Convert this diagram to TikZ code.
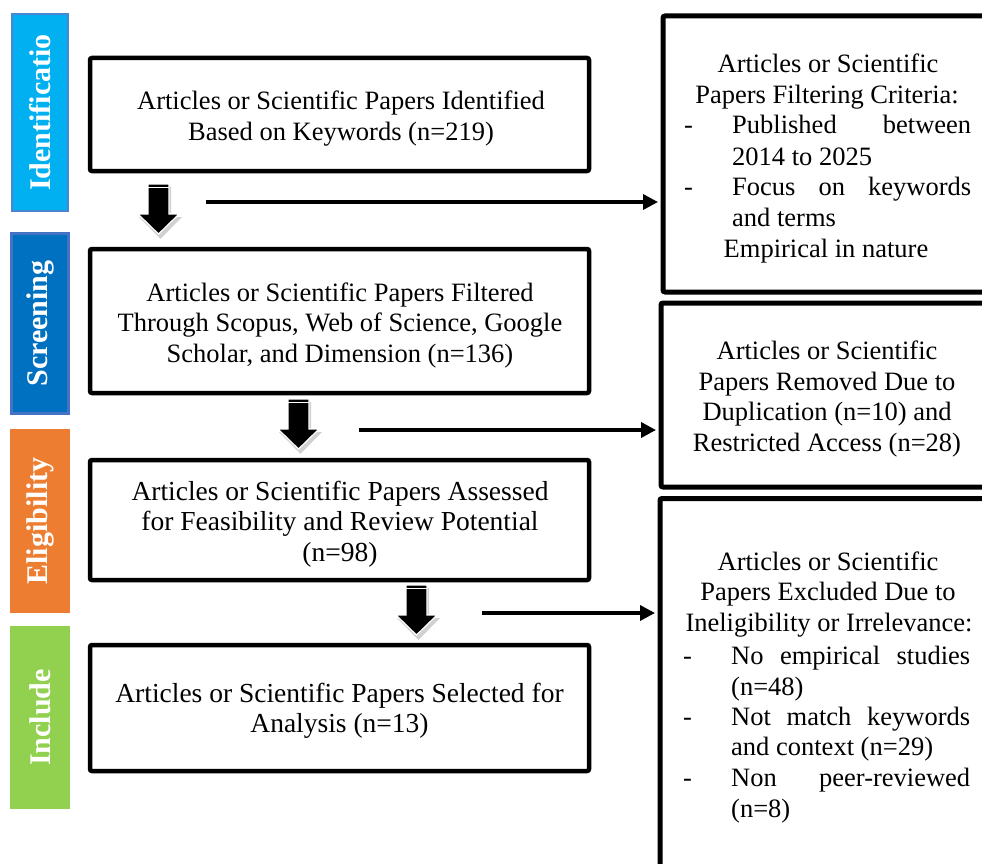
\documentclass[tikz,border=0pt]{standalone}
\usepackage{fontspec}
\setmainfont{Liberation Serif}
\usetikzlibrary{arrows.meta}
\definecolor{idfill}{HTML}{00B0F0}
\definecolor{idline}{HTML}{4A86D0}
\definecolor{scfill}{HTML}{0070C0}
\definecolor{scline}{HTML}{4472C4}
\definecolor{elfill}{HTML}{ED7D31}
\definecolor{infill}{HTML}{92D050}
\tikzset{
  mainbox/.style={draw=black, line width=4.5pt, rounded corners=2pt, fill=white, inner sep=0pt},
  rightbox/.style={draw=black, line width=5pt, rounded corners=2pt, fill=white, inner sep=0pt},
  sidebox/.style={rotate=90, inner sep=0pt, text=white, font=\fontsize{30}{30}\selectfont\bfseries},
  txt/.style={anchor=base, inner sep=0pt, font=\fontsize{26.5}{30}\selectfont},
  txtw/.style={anchor=base west, inner sep=0pt, font=\fontsize{26.5}{30}\selectfont},
  txtb/.style={anchor=base, inner sep=0pt, font=\fontsize{27.5}{30}\selectfont},
  conn/.style={line width=3.5pt, -{Triangle[length=15pt,width=15pt]}},
  blockarrow/.pic={
    \fill[black, opacity=0.18] (-8.5,3) -- (12.5,3) -- (12.5,33) -- (23.5,33) -- (2,55) -- (-19.5,33) -- (-8.5,33) -- cycle;
    \filldraw[fill=black, draw=white, line width=1.2pt] (-10.5,0) -- (10.5,0) -- (10.5,30) -- (20.5,30) -- (0,50) -- (-20.5,30) -- (-10.5,30) -- cycle;
    \draw[white, line width=1.6pt] (-10.5,3.5) -- (10.5,3.5);
  }
}
\newcommand{\jline}[1]{\makebox[239pt][s]{#1}}
\begin{document}
\begin{tikzpicture}[x=1pt,y=-1pt]
\useasboundingbox (0,0) rectangle (982,864);
\clip (0,0) rectangle (982,864);

% side labels
\node[sidebox, fill=idfill, draw=idline, line width=1.5pt, minimum width=197pt, minimum height=56pt] (sid) at (40,112.5) {Identificatio};
\node[sidebox, fill=scfill, draw=scline, line width=3pt, minimum width=180pt, minimum height=57pt] (ssc) at (40,323.5) {Screening};
\node[sidebox, fill=elfill, minimum width=184pt, minimum height=60pt] (sel) at (40,521) {Eligibility};
\node[sidebox, fill=infill, minimum width=183pt, minimum height=60pt] (sin) at (40,717.5) {Include};

% main boxes
\node[mainbox, minimum width=499pt, minimum height=113pt] (b1) at (339.5,114.5) {};
\node[mainbox, minimum width=499pt, minimum height=144pt] (b2) at (339.5,321) {};
\node[mainbox, minimum width=499pt, minimum height=120pt] (b3) at (339.5,520) {};
\node[mainbox, minimum width=499pt, minimum height=126pt] (b4) at (339.5,708) {};

\node[txt] (b1t1) at (341,110) {Articles or Scientific Papers Identified};
\node[txt] (b1t2) at (341,140) {Based on Keywords (n=219)};

\node[txt] (b2t1) at (340,301) {Articles or Scientific Papers Filtered};
\node[txt] (b2t2) at (340,331) {Through Scopus, Web of Science, Google};
\node[txt] (b2t3) at (340,362) {Scholar, and Dimension (n=136)};

\node[txtb] (b3t1) at (340,500) {Articles or Scientific Papers Assessed};
\node[txtb] (b3t2) at (340,530) {for Feasibility and Review Potential};
\node[txtb] (b3t3) at (340,561) {(n=98)};

\node[txtb] (b4t1) at (339.5,702) {Articles or Scientific Papers Selected for};
\node[txtb] (b4t2) at (339.5,732) {Analysis (n=13)};

% right boxes
\node[rightbox, minimum width=337pt, minimum height=276pt] (r1) at (831.5,154) {};
\node[rightbox, minimum width=339pt, minimum height=184pt] (r2) at (830.5,395) {};
\node[rightbox, minimum width=340pt, minimum height=402pt] (r3) at (830,699.5) {};

\node[txt] (r1t1) at (828,73) {Articles or Scientific};
\node[txt] (r1t2) at (827,104) {Papers Filtering Criteria:};
\node[txtw] (r1d1) at (684,134) {-};
\node[txtw] (r1t3) at (732,134) {\jline{Published between}};
\node[txtw] (r1t4) at (732,165) {2014 to 2025};
\node[txtw] (r1d2) at (684,195) {-};
\node[txtw] (r1t5) at (732,195) {\jline{Focus on keywords}};
\node[txtw] (r1t6) at (732,226) {and terms};
\node[txt] (r1t7) at (826,257) {Empirical in nature};

\node[txt] (r2t1) at (827,359) {Articles or Scientific};
\node[txt] (r2t2) at (827,390) {Papers Removed Due to};
\node[txt] (r2t3) at (827,420) {Duplication (n=10) and};
\node[txt] (r2t4) at (827,451) {Restricted Access (n=28)};

\node[txt] (r3t1) at (828,570) {Articles or Scientific};
\node[txt] (r3t2) at (828,600) {Papers Excluded Due to};
\node[txt] (r3t3) at (829,631) {Ineligibility or Irrelevance:};
\node[txtw] (r3d1) at (683,664) {-};
\node[txtw] (r3t4) at (731,664) {\jline{No empirical studies}};
\node[txtw] (r3t5) at (731,695) {(n=48)};
\node[txtw] (r3d2) at (683,725) {-};
\node[txtw] (r3t6) at (731,725) {\jline{Not match keywords}};
\node[txtw] (r3t7) at (731,755) {and context (n=29)};
\node[txtw] (r3d3) at (683,786) {-};
\node[txtw] (r3t8) at (731,786) {\jline{Non peer-reviewed}};
\node[txtw] (r3t9) at (731,817) {(n=8)};

% block arrows between main boxes
\coordinate (ba1) at (158.5,184);
\coordinate (ba2) at (298.5,399);
\coordinate (ba3) at (416.5,585);
\pic at (ba1) {blockarrow};
\pic at (ba2) {blockarrow};
\pic at (ba3) {blockarrow};

% connectors to right boxes
\coordinate (c1) at (206,202);
\coordinate (c2) at (359,430);
\coordinate (c3) at (482,613);
\draw[conn] (c1) -- ([xshift=-2.5pt]r1.west |- c1);
\draw[conn] (c2) -- ([xshift=-2.5pt]r2.west |- c2);
\draw[conn] (c3) -- ([xshift=-2.5pt]r3.west |- c3);
\end{tikzpicture}
\end{document}
